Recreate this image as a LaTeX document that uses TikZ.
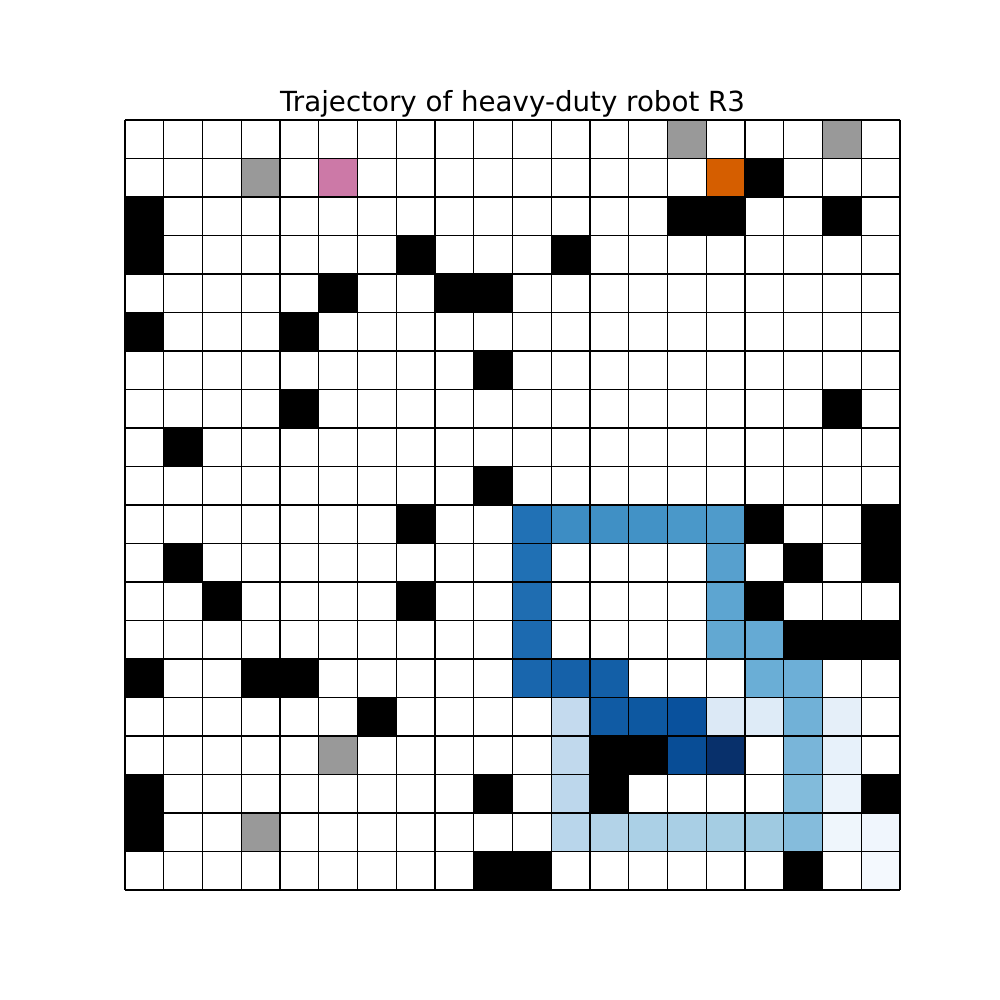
\documentclass[tikz,border=0pt]{standalone}
\usepackage{fontspec}
\setmainfont{DejaVu Sans}
\definecolor{gr}{HTML}{999999}
\definecolor{pk}{HTML}{CC79A7}
\definecolor{og}{HTML}{D55E00}
\definecolor{ba}{HTML}{2171B5}
\definecolor{bb}{HTML}{3D8DC4}
\definecolor{bc}{HTML}{4090C5}
\definecolor{bd}{HTML}{4292C6}
\definecolor{be}{HTML}{4A98C9}
\definecolor{bf}{HTML}{4F9BCB}
\definecolor{bg}{HTML}{2070B4}
\definecolor{bh}{HTML}{57A0CE}
\definecolor{bi}{HTML}{1F6DB1}
\definecolor{bj}{HTML}{5DA5D1}
\definecolor{bk}{HTML}{1C6AB0}
\definecolor{bl}{HTML}{62A8D2}
\definecolor{bm}{HTML}{65AAD4}
\definecolor{bn}{HTML}{1966AD}
\definecolor{bo}{HTML}{1561A9}
\definecolor{bp}{HTML}{135FA7}
\definecolor{bq}{HTML}{6AAED6}
\definecolor{br}{HTML}{6DAFD7}
\definecolor{bs}{HTML}{C4DAEE}
\definecolor{bt}{HTML}{105BA4}
\definecolor{bu}{HTML}{0D58A1}
\definecolor{bv}{HTML}{09519D}
\definecolor{bw}{HTML}{DCE9F6}
\definecolor{bx}{HTML}{DEEBF7}
\definecolor{by}{HTML}{71B1D7}
\definecolor{bz}{HTML}{E5EFF9}
\definecolor{qa}{HTML}{C1D9ED}
\definecolor{qb}{HTML}{084D96}
\definecolor{qc}{HTML}{08306B}
\definecolor{qd}{HTML}{79B5D9}
\definecolor{qe}{HTML}{E7F1FA}
\definecolor{qf}{HTML}{BDD7EC}
\definecolor{qg}{HTML}{82BBDB}
\definecolor{qh}{HTML}{EBF3FB}
\definecolor{qi}{HTML}{B9D6EB}
\definecolor{qj}{HTML}{B3D3E8}
\definecolor{qk}{HTML}{ABD0E6}
\definecolor{ql}{HTML}{A9CFE5}
\definecolor{qm}{HTML}{A5CDE3}
\definecolor{qn}{HTML}{9FCAE1}
\definecolor{qo}{HTML}{85BCDC}
\definecolor{qp}{HTML}{EFF6FC}
\definecolor{qq}{HTML}{F0F6FD}
\definecolor{qr}{HTML}{F4F9FE}
\tikzset{gridline/.style={line width=1.2pt, draw=black}}
\begin{document}
\begin{tikzpicture}[x=1pt,y=-1pt]
\useasboundingbox (0,0) rectangle (1000,1000);
\fill[white] (0,0) rectangle (1000,1000);
\def\cw{38.75}\def\chh{38.5}
% coloured cells: row/col/colour
\foreach \r/\c/\col in {
0/14/gr,0/18/gr,
1/3/gr,1/5/pk,1/15/og,1/16/black,
2/0/black,2/14/black,2/15/black,2/18/black,
3/0/black,3/7/black,3/11/black,
4/5/black,4/8/black,4/9/black,
5/0/black,5/4/black,
6/9/black,
7/4/black,7/18/black,
8/1/black,
9/9/black,
10/7/black,10/16/black,10/19/black,
10/10/ba,10/11/bb,10/12/bc,10/13/bd,10/14/be,10/15/bf,
11/1/black,11/17/black,11/19/black,11/10/bg,11/15/bh,
12/2/black,12/7/black,12/16/black,12/10/bi,12/15/bj,
13/17/black,13/18/black,13/19/black,13/10/bk,13/15/bl,13/16/bm,
14/0/black,14/3/black,14/4/black,14/10/bn,14/11/bo,14/12/bp,14/16/bq,14/17/br,
15/6/black,15/11/bs,15/12/bt,15/13/bu,15/14/bv,15/15/bw,15/16/bx,15/17/by,15/18/bz,
16/5/gr,16/12/black,16/13/black,16/11/qa,16/14/qb,16/15/qc,16/17/qd,16/18/qe,
17/0/black,17/9/black,17/12/black,17/19/black,17/11/qf,17/17/qg,17/18/qh,
18/0/black,18/3/gr,18/11/qi,18/12/qj,18/13/qk,18/14/ql,18/15/qm,18/16/qn,18/17/qo,18/18/qp,18/19/qq,
19/9/black,19/10/black,19/17/black,19/19/qr}
{\fill[fill=\col] ({125+\c*\cw},{120+\r*\chh}) rectangle ++(\cw,\chh);}
% grid lines
\foreach \i in {0,...,20}{
  \draw[gridline] ({125+\i*\cw},120) -- ({125+\i*\cw},890);
  \draw[gridline] (125,{120+\i*\chh}) -- (900,{120+\i*\chh});
}
\node[anchor=base, font=\fontsize{27.7}{32}\selectfont, inner sep=0pt] (title) at (512.5,112) {Trajectory of heavy-duty robot R3};
\end{tikzpicture}
\end{document}
